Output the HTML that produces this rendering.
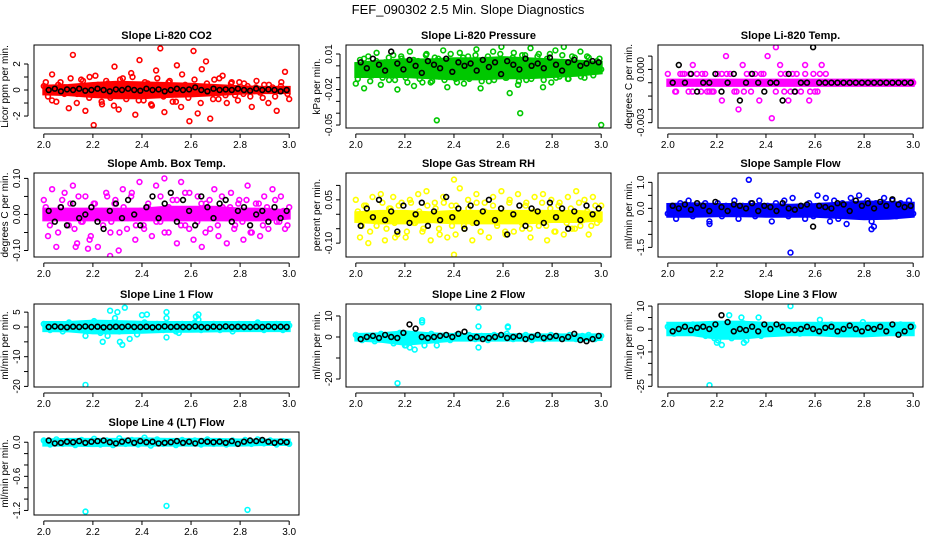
<!DOCTYPE html>
<html><head><meta charset="utf-8">
<style>
html,body{margin:0;padding:0;background:#fff;}
svg{display:block;font-family:"Liberation Sans",Arial,sans-serif;}
</style></head>
<body>
<svg id="chart" width="936" height="540" viewBox="0 0 936 540">
<rect x="0" y="0" width="936" height="540" fill="#fff"/>
<text x="468" y="14" text-anchor="middle" font-size="13">FEF_090302  2.5 Min. Slope Diagnostics</text>
</svg>
<script>
const X_BAND=[2.0,2.1,2.2,2.3,2.4,2.5,2.6,2.7,2.8,2.9,3.0];
const X_TICKS=[2.0,2.2,2.4,2.6,2.8,3.0];
const X_LABELS=["2.0","2.2","2.4","2.6","2.8","3.0"];

const p1Hi=[0.3,0.35,0.5,0.6,0.55,0.5,0.45,0.35,0.25,0.2,0.2];
const p1Lo=[-0.3,-0.35,-0.5,-0.6,-0.6,-0.5,-0.45,-0.35,-0.25,-0.2,-0.2];
const p1Cloud=[0.3,-0.5,1.2,-0.9,0.6,0.2,-1.4,2.7,-0.3,0.8,-1.6,1.0,-2.7,0.4,-1.1,0.7,-0.6,1.8,-1.5,0.9,-0.4,1.3,-1.9,2.3,-0.8,0.5,-1.2,1.5,3.2,-1.7,0.6,-0.9,1.9,-1.3,0.4,-2.4,3.0,-1.8,1.6,2.2,-2.2,0.8,-0.7,1.1,-1.0,0.5,-0.4,0.6,-0.3,0.3,-1.3,0.2,-0.2,0.4,-1.0,0.2,-1.6,0.3,1.4,-0.7];
const p1Cloud2=[0.6,-0.8,0.4,-0.3,0.9,-1.0,0.7,-0.6,1.1,-0.9,0.5,-1.2,0.8,-0.7,1.0,-0.8,0.6,-1.1,0.9,-0.5,0.7,-0.9,1.2,-0.6,0.8,-1.0,0.5,-0.7,0.9,-0.4,0.6,-0.8,0.5,-0.5,0.7,-0.6,0.4,-0.5,0.6,-0.3];
const p1OutX=[];const p1OutY=[];
const p1Black=[0,0.1,-0.1,0.05,0,0.1,-0.05,0,0.1,0,-0.1,0.05,0,0.1,0,-0.05,0.1,0,0.05,-0.1,0,0.1,0,0.05,0.2,0,-0.1,0.1,0,0.05,0,0.1,0,-0.05,0.1,0,0.05,0,-0.1,0];
const p1Ticks=[-2,-1,0,1,2];const p1Labels=["-2","0","2"];const p1LabelVals=[-2,0,2];

const p2Hi=[0.002,0.004,0.005,0.005,0.006,0.006,0.007,0.006,0.005,0.004,0.003];
const p2Lo=[-0.009,-0.009,-0.009,-0.010,-0.011,-0.011,-0.010,-0.010,-0.009,-0.008,-0.006];
const p2Cloud=[-0.015,0.005,-0.019,0.008,-0.008,0.011,-0.016,0.003,-0.012,0.009,-0.020,0.006,-0.010,0.012,-0.017,0.004,-0.014,0.010,-0.014,0.007,-0.009,0.013,-0.018,0.002,-0.011,0.011,-0.015,0.008,-0.006,0.014,-0.019,0.005,-0.013,0.012,-0.008,0.016,-0.010,-0.023,0.011,-0.016,0.009,-0.012,0.015,-0.007,0.010,-0.018,0.006,-0.014,0.013,-0.009,0.016,-0.011,0.008,-0.006,0.012,-0.010,0.007,-0.005,0.004,-0.003];
const p2Cloud2=[-0.011,0.006,-0.013,0.004,-0.010,0.007,-0.012,0.008,-0.014,0.005,-0.011,0.009,-0.013,0.006,-0.012,0.010,-0.014,0.007,-0.011,0.009,-0.013,0.008,-0.012,0.010,-0.010,0.007,-0.013,0.009,-0.011,0.008,-0.012,0.010,-0.010,0.009,-0.011,0.007,-0.009,0.008,-0.008,0.006];
const p2OutX=[2.33,2.67,3.0];const p2OutY=[-0.046,-0.040,-0.050];
const p2Black=[0.003,-0.002,0.006,0.001,-0.004,0.012,0.002,-0.003,0.005,0,-0.006,0.004,0.001,-0.002,0.006,-0.005,0.003,0,0.002,-0.004,0.005,-0.001,0.003,-0.007,0.004,0.001,-0.003,0.006,0,0.002,-0.002,0.007,0.001,-0.004,0.003,0.005,0,0.002,0.004,0.003];
const p2Ticks=[0.01,0,-0.01,-0.02,-0.03,-0.04,-0.05];const p2Labels=["0.01","-0.02","-0.05"];const p2LabelVals=[0.01,-0.02,-0.05];

const p3Hi=[0.0003,0.0003,0.0003,0.0003,0.0003,0.0003,0.0003,0.0003,0.0003,0.0003,0.0003];
const p3Lo=[-0.0003,-0.0003,-0.0003,-0.0003,-0.0003,-0.0003,-0.0003,-0.0003,-0.0003,-0.0003,-0.0003];
const p3Cloud=[0.001,0,-0.001,0.001,0.001,-0.001,0.002,0.001,-0.001,0.001,-0.001,-0.001,0.001,-0.002,0.003,0.001,-0.001,-0.003,0.002,0.001,-0.001,0.001,-0.002,0.001,0.003,-0.004,0.004,0.002,-0.001,-0.002,0.001,0.001,-0.001,0.002,-0.002,0.001,-0.001,0.002,0.001,0,0,0,0,0,0,0,0,0,0,0,0,0,0,0,0,0,0,0,0,0];
const p3Cloud2=[];
const p3OutX=[2.06,2.1,2.14,2.18,2.22,2.28,2.34,2.44,2.48,2.52,2.56,2.6,2.62,2.03,2.09,2.16,2.24,2.31,2.38,2.46,2.5,2.58];
const p3OutY=[0.001,-0.001,0.001,-0.001,0.001,-0.001,0.001,-0.001,0.001,-0.001,0.001,-0.001,0.001,-0.001,0.001,-0.001,0.001,-0.001,0.001,0.001,-0.001,-0.001];
const p3Black=[0,0.002,0,0.001,-0.001,0,0,0.001,-0.001,0,0.001,-0.002,0,0.001,0,-0.001,0,0,-0.002,0.001,-0.001,0,0,0.004,0,0,0,0,0,0,0,0,0,0,0,0,0,0,0,0];
const p3Ticks=[0.003,0.0015,0,-0.0015,-0.003,-0.0045];const p3Labels=["0.000","-0.003"];const p3LabelVals=[0.0015,-0.0045];

const p4Hi=[0.015,0.015,0.015,0.015,0.015,0.02,0.02,0.02,0.015,0.015,0.01];
const p4Lo=[-0.015,-0.015,-0.015,-0.015,-0.015,-0.015,-0.015,-0.015,-0.015,-0.015,-0.01];
const p4Cloud=[0.04,-0.06,0.07,-0.09,0.02,0.06,-0.03,0.08,-0.08,-0.02,0.05,-0.07,0.03,-0.09,0.01,0.06,-0.05,0.03,-0.1,0.07,-0.04,0.05,-0.07,0.09,-0.03,0.02,-0.06,0.08,-0.02,0.1,-0.05,0.04,-0.08,0.09,-0.03,0.06,-0.07,0.05,-0.09,0.03,-0.04,0.07,-0.06,0.02,-0.08,0.06,-0.03,0.04,-0.07,0.08,-0.05,0.03,-0.06,0.05,-0.04,0.07,-0.02,0.05,-0.04,0.02];
const p4Cloud2=[0.02,-0.03,0.01,-0.05,0.04,-0.01,0.03,-0.04,0.05,-0.02,0.01,-0.06,0.03,0.00,-0.03,0.05,-0.02,0.04,-0.05,0.02,-0.01,0.06,-0.03,0.01,-0.04,0.03,0.0,-0.02,0.05,-0.05,0.02,-0.01,0.04,-0.03,0.06,-0.04,0.01,-0.02,0.03,-0.05,0.04,0.0,-0.03,0.05,-0.01,0.02,-0.04,0.03,-0.02,0.04,-0.05,0.01,0.03,-0.03,0.02,-0.01,0.04,-0.02,0.01,-0.03];
const p4OutX=[2.27,2.18,2.13];const p4OutY=[-0.115,-0.095,-0.09];
const p4Black=[0.01,-0.02,0.02,-0.03,0.03,-0.01,0,0.02,-0.02,-0.04,0.01,0.03,-0.01,0.04,0,-0.03,0.02,0.05,-0.01,0.03,0.06,-0.02,0.04,0.01,-0.03,0.05,0.02,-0.01,0.03,0.04,-0.02,0.01,0.02,-0.03,0,0.01,-0.02,0.02,-0.01,0.01];
const p4Ticks=[0.1,0.05,0,-0.05,-0.1];const p4Labels=["0.10","0.00","-0.10"];const p4LabelVals=[0.1,0,-0.1];

const p5Hi=[0.005,0.01,0.01,0.005,0.01,0.01,0.01,0.01,0.01,0.01,0.005];
const p5Lo=[-0.025,-0.03,-0.03,-0.025,-0.03,-0.03,-0.03,-0.03,-0.025,-0.025,-0.02];
const p5Cloud=[0.05,-0.08,0.03,-0.1,0.06,-0.04,0.07,-0.09,0.02,0.06,-0.07,0.04,-0.08,0.05,-0.03,0.07,-0.06,0.08,-0.09,0.04,-0.05,0.06,-0.08,0.03,-0.07,0.09,-0.04,0.05,-0.09,0.07,-0.06,0.04,-0.08,0.06,-0.03,0.08,-0.07,0.05,-0.06,0.07,-0.05,0.04,-0.08,0.06,-0.04,0.07,-0.09,0.05,-0.06,0.04,-0.07,0.06,-0.05,0.08,-0.04,0.05,-0.07,0.06,-0.03,0.03];
const p5Cloud2=[0.01,-0.04,0.03,-0.06,0.0,-0.02,0.04,-0.05,0.02,-0.03,0.03,-0.01,-0.06,0.04,-0.03,0.01,-0.05,0.03,-0.02,0.02,-0.07,0.04,-0.01,-0.04,0.03,0.0,-0.05,0.02,-0.03,0.04,-0.06,0.01,-0.02,0.03,-0.04,0.02,-0.06,0.04,-0.01,0.0,-0.03,0.03,-0.05,0.01,-0.02,0.04,-0.04,0.02,-0.06,0.03,-0.01,-0.03,0.02,-0.05,0.04,-0.02,0.01,-0.04,0.03,-0.02];
const p5OutX=[2.4,2.4,2.16];const p5OutY=[0.12,-0.14,-0.08];
const p5Black=[-0.04,0.02,-0.01,0.05,-0.02,0.01,-0.06,0.03,-0.03,0,0.04,-0.04,0.01,-0.02,0.06,-0.01,0.02,-0.05,0.03,-0.03,0.01,0.05,-0.02,0.02,-0.07,0,0.03,-0.04,0.02,0.01,-0.03,0.04,-0.01,0.02,-0.05,0.01,-0.02,0.03,0,0.02];
const p5Ticks=[0.1,0.05,0,-0.05,-0.1];const p5Labels=["0.05","-0.10"];const p5LabelVals=[0.05,-0.1];

const p6Hi=[0.15,0.18,0.15,0.15,0.15,0.12,0.15,0.2,0.25,0.22,0.2];
const p6Lo=[-0.3,-0.3,-0.28,-0.28,-0.3,-0.3,-0.3,-0.35,-0.4,-0.38,-0.3];
const p6Cloud=[-0.2,0.1,-0.4,0.2,-0.1,0.3,-0.3,0.1,-0.2,0.2,-0.5,0,0.2,-0.3,0.1,-0.2,0.3,-0.4,0.1,-0.1,0.2,-0.3,0.3,-0.2,0.1,-0.5,0.2,-0.1,0.3,-0.3,0.4,-0.2,0.1,-0.4,0.2,-0.3,0.5,-0.2,0.4,-0.5,0.3,-0.4,0.2,-0.6,0.4,-0.3,0.5,-0.2,0.3,-0.5,0.2,-0.3,0.4,-0.2,0.3,-0.3,0.2,-0.1,0.3,-0.2];
const p6Cloud2=[];
const p6OutX=[2.33,2.5,2.83,2.84,2.17];const p6OutY=[1.1,-1.7,-0.8,-0.7,-0.6];
const p6Black=[0.1,0.0,0.15,-0.05,0.2,0.1,-0.1,0.25,0.05,-0.1,0.15,0.1,0,0.2,-0.1,0.1,0.05,-0.1,0.2,0,-0.05,0.1,0.15,-0.7,0.1,0.05,0,0.2,0.15,-0.1,0.3,0.1,0.2,0,0.25,0.1,0.35,0.15,0.05,0.1];
const p6Ticks=[1.0,0.5,0,-0.5,-1.0,-1.5];const p6Labels=["1.0","0.0","-1.5"];const p6LabelVals=[1,0,-1.5];

const p7Hi=[1.5,1.5,2,1.8,1.6,1.5,1.5,1.5,1.5,1.5,1.5];
const p7Lo=[-1.2,-1.3,-2,-2,-1.8,-1.5,-1.4,-1.3,-1.2,-1.2,-1.2];
const p7Cloud=[1,-1,0.5,-1.5,1.5,-0.5,1,-1,2,-2,0.5,1.5,-1.5,1,-1,0.5,1.5,-0.5,1,-1,0.5,-1.5,1,-0.5,1.5,-1,0.5,1,-1,0.5,-1.5,1,0.5,-0.5,1.5,-1,0.5,1,-1,0.5];
const p7Cloud2=[];
const p7OutX=[2.17,2.17,2.24,2.26,2.27,2.29,2.3,2.31,2.32,2.33,2.35,2.38,2.4,2.42,2.5,2.5,2.5,2.55,2.62,2.63,2.63];
const p7OutY=[-19.5,-3,-5,-3,5.5,3,5,-5,-6,6.5,-4,-2.5,4,4.2,5,3,-3.5,-2,3.5,4.2,2.5];
const p7Black=[0,0.2,0,-0.1,0.1,0,0.2,0,0.1,-0.1,0,0.1,0,0.2,0,0,0.1,-0.1,0,0.2,0,0.1,0,0,0.2,0,-0.1,0.1,0,0.2,0,0.1,0,0,0.1,0,0.2,0,0.1,0];
const p7Ticks=[5,0,-5,-10,-15,-20];const p7Labels=["5","0","-10","-20"];const p7LabelVals=[5,0,-10,-20];

const p8Hi=[1.2,1.5,2.5,1.5,1.2,1.2,1.2,1.0,1.0,1.0,1.0];
const p8Lo=[-1.5,-2,-3.5,-2.5,-1.5,-1.5,-1.5,-1.5,-1.5,-1.5,-1.2];
const p8Cloud=[1,-1.5,0.5,-2,1.5,-1,-3,2,-4,1,-2,0.5,1.5,-1,0.5,-1.5,1,-0.5,1,-1,0.5,-1.5,1,-0.5,1.5,-1,0.5,1,-1.5,0.5,-1,1,0.5,-0.5,1,-1,0.5,1,-1,0.5];
const p8Cloud2=[];
const p8OutX=[2.17,2.2,2.22,2.24,2.27,2.27,2.28,2.33,2.5,2.5,2.5,2.62,2.62];
const p8OutY=[-22,-4,-5,-6,8,7,-4,-4,14,5,-5,5,4.5];
const p8Black=[-1,0,0.5,-0.5,1,0,-0.5,2,6,4,0,-0.5,0,0.5,1,0,1.5,2.5,-0.5,0,-1,-0.5,0,1,-0.5,0,0.5,-1,0,1,-0.5,0,0.5,-1,0,1.5,-1.5,-2,-1,0.5];
const p8Ticks=[10,0,-10,-20];const p8Labels=["10","0","-20"];const p8LabelVals=[10,0,-20];

const p9Hi=[2.5,2.5,3,3,2.5,2.5,2.5,2.5,2.5,2.5,2.5];
const p9Lo=[-2.5,-2.5,-4,-4,-3,-2.5,-2.5,-3,-3,-2.5,-2.5];
const p9Cloud=[1,-2,0.5,-1.5,2,-1,-3,1.5,-5,2,-2,1,2.5,-1,0.5,-2,1,-1,1.5,-1,0.5,-2,1,-0.5,1.5,-1,2,1,-2,0.5,-1,3,0.5,-1.5,1,-1,0.5,2,-1.5,1];
const p9Cloud2=[];
const p9OutX=[2.17,2.19,2.2,2.22,2.25,2.26,2.3,2.31,2.32,2.37,2.38,2.5,2.62];
const p9OutY=[-24.5,-4,-6,-7,6,-4,5,-6,-5,5,-3,10,4];
const p9Black=[-1,0,1,-0.5,0.5,1,0,2,6,3,-1,0,-0.5,1,-1,2,0,2,1,-0.5,-0.5,0,1,0,-1,0.5,1,-1,0,1.5,0,-1,0.5,0,1,-1,2,-2.5,-1,1];
const p9Ticks=[10,5,0,-5,-10,-15,-20,-25];const p9Labels=["10","0","-10","-25"];const p9LabelVals=[10,0,-10,-25];

const p10Hi=[0.04,0.05,0.05,0.05,0.06,0.05,0.05,0.05,0.04,0.04,0.04];
const p10Lo=[-0.05,-0.05,-0.06,-0.05,-0.05,-0.05,-0.05,-0.05,-0.05,-0.04,-0.04];
const p10Cloud=[0.03,-0.04,0.05,-0.03,0.02,-0.05,0.04,-0.02,0.06,-0.04,0.03,-0.05,0.07,-0.03,0.04,-0.04,0.08,-0.06,0.05,-0.03,0.02,-0.05,0.04,-0.02,0.03,-0.04,0.05,-0.03,0.02,-0.04,0.03,-0.02,0.04,-0.03,0.05,-0.02,0.03,-0.04,0.02,-0.03];
const p10Cloud2=[];
const p10OutX=[2.17,2.5,2.83];const p10OutY=[-1.22,-1.12,-1.19];
const p10Black=[0.03,-0.02,-0.01,0.01,0,0.02,-0.01,0.01,0.02,0.03,0,-0.02,0.01,0.03,-0.01,0.02,0,0.01,-0.02,-0.01,0,0.02,-0.01,0.01,-0.02,0.02,0.01,0,0.01,-0.01,0.02,-0.03,0.01,0.03,0.02,0.04,0.01,-0.01,0.01,0];
const p10Ticks=[0,-0.2,-0.4,-0.6,-0.8,-1.0,-1.2];const p10Labels=["0.0","-0.6","-1.2"];const p10LabelVals=[0,-0.6,-1.2];

const NS="http://www.w3.org/2000/svg";
const svg=document.getElementById('chart');
function mk(tag,attrs,parent){const e=document.createElementNS(NS,tag);for(const k in attrs)e.setAttribute(k,attrs[k]);(parent||svg).appendChild(e);return e;}

const COLS=[34,346,658];const PW=265;
const ROWS=[[45,128],[173,257],[304,387],[432,515]];

const panels=[
 {t:"Slope Li-820 CO2",yl:"Licor ppm per min.",c:"#ff0000",col:0,row:0,dom:[-2.92,3.46],hi:p1Hi,lo:p1Lo,cl:p1Cloud,cl2:p1Cloud2,ox:p1OutX,oy:p1OutY,bk:p1Black,tk:p1Ticks,lb:p1Labels,lv:p1LabelVals},
 {t:"Slope Li-820 Pressure",yl:"kPa per min.",c:"#00c800",col:1,row:0,dom:[-0.0525,0.0176],hi:p2Hi,lo:p2Lo,cl:p2Cloud,cl2:p2Cloud2,ox:p2OutX,oy:p2OutY,bk:p2Black,tk:p2Ticks,lb:p2Labels,lv:p2LabelVals},
 {t:"Slope Li-820 Temp.",yl:"degrees C per min.",c:"#ff00ff",col:2,row:0,dom:[-0.0051,0.00425],hi:p3Hi,lo:p3Lo,cl:p3Cloud,cl2:p3Cloud2,ox:p3OutX,oy:p3OutY,bk:p3Black,tk:p3Ticks,lb:p3Labels,lv:p3LabelVals},
 {t:"Slope Amb. Box Temp.",yl:"degrees C per min.",c:"#ff00ff",col:0,row:1,dom:[-0.118,0.115],hi:p4Hi,lo:p4Lo,cl:p4Cloud,cl2:p4Cloud2,ox:p4OutX,oy:p4OutY,bk:p4Black,tk:p4Ticks,lb:p4Labels,lv:p4LabelVals},
 {t:"Slope Gas Stream RH",yl:"percent per min.",c:"#ffff00",col:1,row:1,dom:[-0.148,0.143],hi:p5Hi,lo:p5Lo,cl:p5Cloud,cl2:p5Cloud2,ox:p5OutX,oy:p5OutY,bk:p5Black,tk:p5Ticks,lb:p5Labels,lv:p5LabelVals},
 {t:"Slope Sample Flow",yl:"ml/min per min.",c:"#0000ff",col:2,row:1,dom:[-1.87,1.36],hi:p6Hi,lo:p6Lo,cl:p6Cloud,cl2:p6Cloud2,ox:p6OutX,oy:p6OutY,bk:p6Black,tk:p6Ticks,lb:p6Labels,lv:p6LabelVals},
 {t:"Slope Line 1 Flow",yl:"ml/min per min.",c:"#00ffff",col:0,row:2,dom:[-20.2,7.74],hi:p7Hi,lo:p7Lo,cl:p7Cloud,cl2:p7Cloud2,ox:p7OutX,oy:p7OutY,bk:p7Black,tk:p7Ticks,lb:p7Labels,lv:p7LabelVals},
 {t:"Slope Line 2 Flow",yl:"ml/min per min.",c:"#00ffff",col:1,row:2,dom:[-23.8,15.7],hi:p8Hi,lo:p8Lo,cl:p8Cloud,cl2:p8Cloud2,ox:p8OutX,oy:p8OutY,bk:p8Black,tk:p8Ticks,lb:p8Labels,lv:p8LabelVals},
 {t:"Slope Line 3 Flow",yl:"ml/min per min.",c:"#00ffff",col:2,row:2,dom:[-25.3,10.9],hi:p9Hi,lo:p9Lo,cl:p9Cloud,cl2:p9Cloud2,ox:p9OutX,oy:p9OutY,bk:p9Black,tk:p9Ticks,lb:p9Labels,lv:p9LabelVals},
 {t:"Slope Line 4 (LT) Flow",yl:"ml/min per min.",c:"#00ffff",col:0,row:3,dom:[-1.28,0.18],hi:p10Hi,lo:p10Lo,cl:p10Cloud,cl2:p10Cloud2,ox:p10OutX,oy:p10OutY,bk:p10Black,tk:p10Ticks,lb:p10Labels,lv:p10LabelVals}
];

panels.forEach((p,pi)=>{
 const L=COLS[p.col],R=L+PW,T=ROWS[p.row][0],B=ROWS[p.row][1];
 const xs=v=>L+(v-1.96)/(1.08)*PW;
 const ys=v=>B-(v-p.dom[0])/(p.dom[1]-p.dom[0])*(B-T);
 const g=mk('g',{});
 
 
 const cp=mk('clipPath',{id:'clip'+pi},g);
 mk('rect',{x:L,y:T,width:PW,height:B-T},cp);
 const plot=mk('g',{'clip-path':'url(#clip'+pi+')'},g);
 let pts=X_BAND.map((x,i)=>xs(x).toFixed(1)+','+ys(p.hi[i]).toFixed(1));
 for(let i=X_BAND.length-1;i>=0;i--)pts.push(xs(X_BAND[i]).toFixed(1)+','+ys(p.lo[i]).toFixed(1));
 const band=mk('polygon',{points:pts.join(' '),fill:p.c,stroke:p.c,'stroke-width':3},plot);
 
 
 const circ=(x,y,col,name)=>{const c=mk('circle',{cx:xs(x).toFixed(1),cy:ys(y).toFixed(1),r:2.4,fill:'none',stroke:col,'stroke-width':1.6},plot);
  
  };
 const n=p.cl.length;
 p.cl.forEach((v,i)=>circ(2.0+i/(n-1),v,p.c,'point'));
 const n2=p.cl2.length;
 p.cl2.forEach((v,i)=>circ(2.008+0.985*i/(n2-1),v,p.c,'point'));
 p.ox.forEach((x,i)=>circ(x,p.oy[i],p.c,'outlier-point'));
 const nb=p.bk.length;
 p.bk.forEach((v,i)=>circ(2.02+0.97*i/(nb-1),v,'#000','black-point'));
 const box=mk('rect',{x:L,y:T,width:PW,height:B-T,fill:'none',stroke:'#000','stroke-width':1},g);
 
 
 const tt=mk('text',{x:(L+R)/2,y:T-6,'text-anchor':'middle','font-size':11,'font-weight':'bold'},g);
 tt.textContent=p.t;
 
 
 mk('line',{x1:xs(2.0),x2:xs(3.0),y1:B+6,y2:B+6,stroke:'#000'},g);
 X_TICKS.forEach((v,i)=>{mk('line',{x1:xs(v),x2:xs(v),y1:B+6,y2:B+10,stroke:'#000'},g);
  const tx=mk('text',{x:xs(v),y:B+20,'text-anchor':'middle','font-size':10},g);tx.textContent=X_LABELS[i];
  
  });
 const yt=p.tk;
 mk('line',{x1:L-6,x2:L-6,y1:ys(Math.max(...yt)),y2:ys(Math.min(...yt)),stroke:'#000'},g);
 yt.forEach(v=>mk('line',{x1:L-10,x2:L-6,y1:ys(v),y2:ys(v),stroke:'#000'},g));
 p.lb.forEach((s,i)=>{const yy=ys(p.lv[i]);
  const tx=mk('text',{x:L-14,y:yy,'text-anchor':'middle','font-size':10,transform:`rotate(-90 ${L-14} ${yy})`},g);tx.textContent=s;
  
  });
 const ym=(T+B)/2;
 const ylt=mk('text',{x:L-26,y:ym,'text-anchor':'middle','font-size':10,transform:`rotate(-90 ${L-26} ${ym})`},g);
 ylt.textContent=p.yl;
 
 
});
</script>
</body></html>
